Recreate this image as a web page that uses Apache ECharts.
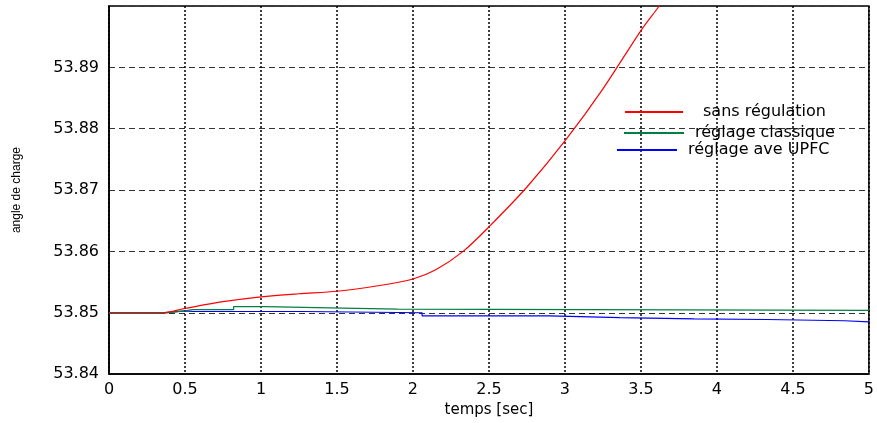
<!DOCTYPE html>
<html>
<head>
<meta charset="utf-8">
<script src="https://cdn.jsdelivr.net/npm/echarts@6/dist/echarts.min.js"></script>
<style>
  html, body { margin: 0; padding: 0; background: #fff; }
  #chart { width: 877px; height: 423px; }
</style>
</head>
<body>
<div id="chart"></div>
<script>
// axes
const xTicks = [0, 5, 0.5];           // min, max, interval
const yTicks = [53.84, 53.9, 0.01];

// names
const seriesNames = ['sans régulation', 'réglage classique', 'réglage ave UPFC'];
const seriesColors = ['#ff0000', '#008040', '#0000ff'];

// sans régulation [t, angle]
const sansRegulation = [
  [0, 53.8500], [0.35, 53.8500], [0.5, 53.8507], [0.75, 53.8518], [1.0, 53.8526],
  [1.25, 53.8531], [1.5, 53.8535], [1.77, 53.8544], [2.0, 53.8555], [2.15, 53.8570],
  [2.33, 53.8600], [2.5, 53.8640], [2.75, 53.8705], [3.0, 53.8780], [3.25, 53.8865],
  [3.5, 53.8960], [3.62, 53.9000], [3.7, 53.9030]
];

// réglage classique (steps)
const reglageClassique = [
  [0, 53.8499], [0.35, 53.8499], [0.5, 53.8503], [0.55, 53.8505], [0.82, 53.8505],
  [0.82, 53.8510], [1.03, 53.8510], [1.03, 53.8508], [1.45, 53.8508], [1.45, 53.8506],
  [1.9, 53.8506], [1.9, 53.8504], [5, 53.8504]
];

// réglage ave UPFC (steps)
const reglageUpfc = [
  [0, 53.8500], [0.35, 53.8500], [0.5, 53.8503], [0.55, 53.8502], [1.27, 53.8502],
  [1.27, 53.8500], [2.06, 53.8500], [2.06, 53.8495], [2.9, 53.8495], [2.9, 53.8492],
  [3.36, 53.8492], [3.36, 53.8490], [3.85, 53.8490], [3.85, 53.8489], [4.33, 53.8489],
  [4.33, 53.8487], [4.84, 53.8487], [4.84, 53.8485], [5, 53.8485]
];

const chart = echarts.init(document.getElementById('chart'));

const seriesData = [sansRegulation, reglageClassique, reglageUpfc];

// one legend per line, placed like the original figure
const legendPos = [
  { left: 625, top: 104, width: 58, pad: 15 },
  { left: 624, top: 125, width: 60, pad: 6 },
  { left: 617, top: 142, width: 60, pad: 6 }
];

const option = {
  animation: false,
  backgroundColor: '#fff',
  grid: {
    left: 109, right: 4, top: 6, bottom: 44,
    show: true, borderColor: '#000', borderWidth: 1.5
  },
  legend: seriesNames.map((name, i) => ({
    data: [name],
    left: legendPos[i].left,
    top: legendPos[i].top,
    padding: 0,
    itemWidth: legendPos[i].width,
    itemHeight: 2,
    icon: 'rect',
    selectedMode: false,
    textStyle: {
      fontFamily: 'DejaVu Sans',
      fontSize: 16,
      color: '#000',
      padding: [0, 0, 0, legendPos[i].pad]
    }
  })),
  xAxis: {
    type: 'value',
    min: xTicks[0], max: xTicks[1], interval: xTicks[2],
    name: 'temps [sec]',
    nameLocation: 'middle',
    nameGap: 20,
    nameTextStyle: { fontFamily: 'DejaVu Sans', fontSize: 15, color: '#000' },
    axisLine: { lineStyle: { color: '#000', width: 1.5 } },
    axisTick: { show: false },
    axisLabel: { fontFamily: 'DejaVu Sans', fontSize: 16, color: '#000', margin: 8 },
    splitLine: { show: true, lineStyle: { color: '#000', type: [2, 2], width: 1.5 } }
  },
  yAxis: {
    type: 'value',
    min: yTicks[0], max: yTicks[1], interval: yTicks[2],
    name: 'angle de charge',
    nameLocation: 'middle',
    nameGap: 86,
    nameTextStyle: { fontFamily: 'Liberation Sans', fontSize: 12, color: '#000' },
    axisLine: { show: true, lineStyle: { color: '#000', width: 1.5 } },
    axisTick: { show: false },
    axisLabel: {
      fontFamily: 'DejaVu Sans', fontSize: 16, color: '#000', margin: 10,
      formatter: v => (v > 53.895 ? '' : v.toFixed(2))
    },
    splitLine: { show: true, lineStyle: { color: '#333', type: [6, 4], width: 1.2 } }
  },
  series: seriesNames.map((name, i) => ({
    name: name,
    type: 'line',
    data: seriesData[i],
    showSymbol: false,
    symbol: 'none',
    smooth: i === 0 ? 0.3 : false,
    color: seriesColors[i],
    lineStyle: { color: seriesColors[i], width: 1.2 },
    z: 3 + (2 - i)
  }))
};

chart.setOption(option);
</script>
</body>
</html>
